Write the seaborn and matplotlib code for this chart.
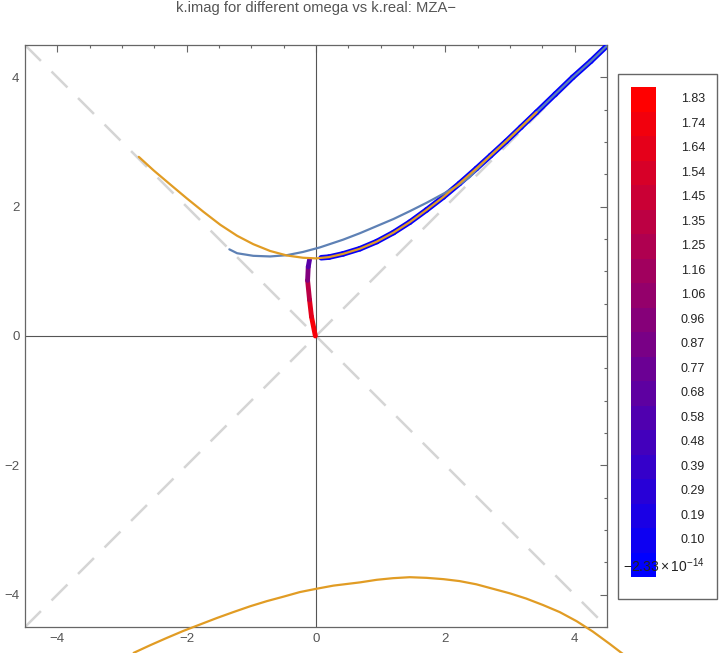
import numpy as np
import pandas as pd
import matplotlib
matplotlib.use("Agg")
import matplotlib.pyplot as plt
import seaborn as sns
from matplotlib.collections import LineCollection
from matplotlib.colors import LinearSegmentedColormap, Normalize
from matplotlib.patches import Rectangle

# ---------------- data ----------------
title = "k.imag for different omega vs k.real: MZA\u2212"

# steel-blue curve
blue_x = [-1.34, -1.22, -0.97, -0.71, -0.45, -0.20, 0.06, 0.42, 0.68, 0.94, 1.20, 1.45, 1.71,
          1.97, 2.20, 2.38, 2.48, 2.70, 2.94, 3.17, 3.41, 3.70, 3.97, 4.25, 4.49]
blue_y = [1.34, 1.28, 1.24, 1.23, 1.25, 1.30, 1.37, 1.49, 1.59, 1.70, 1.81, 1.93, 2.06,
          2.20, 2.33, 2.46, 2.57, 2.79, 3.01, 3.23, 3.46, 3.74, 4.00, 4.25, 4.48]

# orange upper curve
orange_x = [-2.74, -2.51, -2.25, -2.00, -1.74, -1.48, -1.22, -0.97, -0.71, -0.45, -0.20, 0.00,
            0.20, 0.42, 0.68, 0.94, 1.20, 1.45, 1.71, 1.97, 2.22, 2.48, 2.70, 2.94, 3.17, 3.41]
orange_y = [2.77, 2.56, 2.34, 2.13, 1.92, 1.72, 1.55, 1.42, 1.315, 1.245, 1.21, 1.20,
            1.22, 1.27, 1.35, 1.46, 1.60, 1.76, 1.95, 2.15, 2.36, 2.59, 2.79, 3.01, 3.23, 3.46]

# orange lower curve
low_x = [-2.82, -2.56, -2.31, -2.05, -1.79, -1.53, -1.28, -1.02, -0.76, -0.50, -0.25, 0.00, 0.27,
         0.68, 0.94, 1.19, 1.45, 1.71, 1.97, 2.22, 2.48, 2.74, 3.00, 3.25, 3.51, 3.77, 4.03,
         4.28, 4.54, 4.75]
low_y = [-4.90, -4.78, -4.67, -4.56, -4.46, -4.36, -4.27, -4.18, -4.10, -4.03, -3.96, -3.91, -3.86,
         -3.81, -3.77, -3.745, -3.73, -3.74, -3.76, -3.79, -3.84, -3.91, -3.98, -4.06, -4.16, -4.27,
         -4.41, -4.57, -4.76, -4.92]

# colour-coded branches (omega values)
left_x = [-0.01, -0.07, -0.10, -0.13, -0.12, -0.10]
left_y = [0.00, 0.30, 0.56, 0.86, 1.07, 1.18]
left_w = [1.83, 1.72, 1.55, 1.10, 0.75, 0.50]

right_x = [0.08, 0.20, 0.42, 0.68, 0.94, 1.20, 1.45, 1.71, 1.97, 2.22, 2.48, 2.70, 2.94, 3.17,
           3.41, 3.70, 3.97, 4.25, 4.49]
right_y = [1.21, 1.22, 1.27, 1.35, 1.46, 1.60, 1.76, 1.95, 2.15, 2.36, 2.59, 2.79, 3.01, 3.23,
           3.46, 3.74, 4.00, 4.25, 4.48]
right_w = [0.08, 0.07, 0.06, 0.06, 0.05, 0.05, 0.04, 0.04, 0.03, 0.03, 0.02, 0.02, 0.02, 0.01,
           0.01, 0.01, 0.0, 0.0, 0.0]

cbar_labels = ["1.83", "1.74", "1.64", "1.54", "1.45", "1.35", "1.25", "1.16", "1.06", "0.96",
               "0.87", "0.77", "0.68", "0.58", "0.48", "0.39", "0.29", "0.19", "0.10"]
cbar_min_label = r"$-2.33\times10^{-14}$"
w_min, w_max = -2.33e-14, 1.83

diag = [-4.5, 4.5]
ticks = [-4, -2, 0, 2, 4]

# ---------------- style ----------------
sns.set_style("white")
plt.rcParams["font.family"] = ["Liberation Sans", "DejaVu Sans"]
plt.rcParams["mathtext.fontset"] = "custom"
plt.rcParams["mathtext.rm"] = "Liberation Sans"
plt.rcParams["mathtext.it"] = "Liberation Sans"

ORANGE = "#E19C24"
STEEL = "#5E81B5"
FRAME = "#666666"
TXT = "#555555"

fig = plt.figure(figsize=(7.2, 6.53), dpi=100)
ax = fig.add_axes([25 / 720, 26 / 653, 582 / 720, 582 / 653])

# dashed diagonals
ax.plot(diag, diag, color="#D5D5D5", lw=1.8, dashes=(9, 6), zorder=1)
ax.plot(diag, diag[::-1], color="#D5D5D5", lw=1.8, dashes=(9, 6), zorder=1)
# axes lines
ax.axhline(0, color="#555555", lw=0.8, zorder=2)
ax.axvline(0, color="#555555", lw=0.8, zorder=2)

cmap = LinearSegmentedColormap.from_list("br", [(0, 0, 1), (1, 0, 0)])
norm = Normalize(w_min, w_max)

def colored(xs, ys, ws, lw):
    pts = np.column_stack([xs, ys]).reshape(-1, 1, 2)
    segs = np.concatenate([pts[:-1], pts[1:]], axis=1)
    vals = (np.array(ws[:-1]) + np.array(ws[1:])) / 2
    lc = LineCollection(segs, cmap=cmap, norm=norm, linewidths=lw, capstyle="round",
                        joinstyle="round", zorder=3)
    lc.set_array(vals)
    ax.add_collection(lc)

colored(left_x, left_y, left_w, 3.5)
colored(right_x, right_y, right_w, 4.0)

df_b = pd.DataFrame({"x": blue_x, "y": blue_y})
df_o = pd.DataFrame({"x": orange_x, "y": orange_y})
df_l = pd.DataFrame({"x": low_x, "y": low_y})
sns.lineplot(data=df_b, x="x", y="y", sort=False, color=STEEL, lw=1.6, ax=ax, zorder=4)
sns.lineplot(data=df_o, x="x", y="y", sort=False, color=ORANGE, lw=1.6, ax=ax, zorder=5)
sns.lineplot(data=df_l, x="x", y="y", sort=False, color=ORANGE, lw=1.6, ax=ax, zorder=5)
ax.lines[-1].set_clip_on(False)
for ln in ax.lines:
    ln.set_solid_joinstyle("round")

ax.set_xlim(-4.5, 4.5)
ax.set_ylim(-4.5, 4.5)
ax.set_xlabel("")
ax.set_ylabel("")
ax.set_xticks(ticks)
ax.set_yticks(ticks)
ax.set_xticklabels([str(t).replace("-", "\u2212") for t in ticks])
ax.set_yticklabels([str(t).replace("-", "\u2212") for t in ticks])
ax.set_xticks(np.arange(-4.5, 4.51, 0.5), minor=True)
ax.set_yticks(np.arange(-4.5, 4.51, 0.5), minor=True)
ax.tick_params(which="both", direction="in", top=True, right=True, color=FRAME, width=0.8,
               labelsize=9.5, labelcolor=TXT, pad=4)
ax.tick_params(which="major", length=5)
ax.tick_params(which="minor", length=2.5)
for s in ax.spines.values():
    s.set_color(FRAME)
    s.set_linewidth(0.9)
ax.set_title(title, fontsize=10.6, color=TXT, pad=24)

# ---------------- colorbar legend ----------------
fig.patches.append(Rectangle((618 / 720, 1 - 599 / 653), 99 / 720, 525 / 653,
                             transform=fig.transFigure, fill=False, edgecolor=FRAME, lw=1.0))
cax = fig.add_axes([631 / 720, 1 - 577 / 653, 25 / 720, 490 / 653])
n = len(cbar_labels) + 1
levels = np.linspace(w_min, w_max, n)
cax.pcolormesh([0, 1], np.arange(n + 1), levels.reshape(-1, 1), cmap=cmap, norm=norm)
cax.set_xlim(0, 1)
cax.set_ylim(0, n)
cax.axis("off")
for i, lab in enumerate(cbar_labels):
    yc = 87 + 24.5 * (i + 0.5)
    fig.text(705 / 720, 1 - yc / 653, lab, ha="right", va="center", fontsize=9, color="#222222")
fig.text(705 / 720, 1 - 566 / 653, cbar_min_label, ha="right", va="center", fontsize=10,
         color="#222222")

fig.savefig("out.png", dpi=100)
